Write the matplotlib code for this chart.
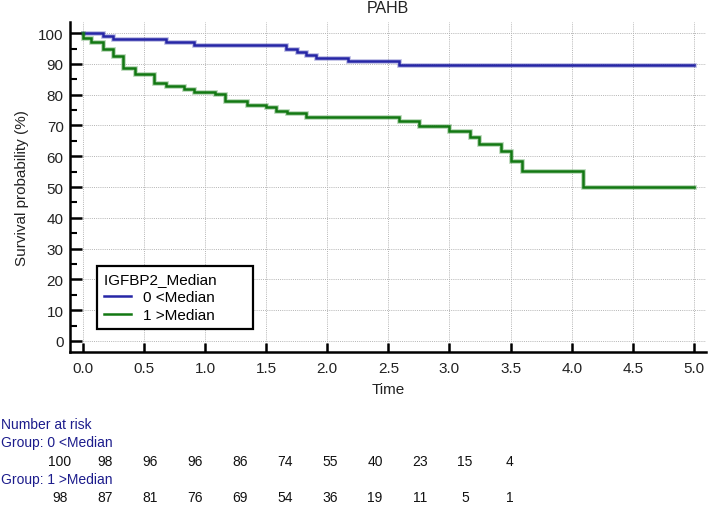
import numpy as np
import matplotlib
matplotlib.use("Agg")
import matplotlib.pyplot as plt
from matplotlib.lines import Line2D

plt.rcParams['font.family'] = ['Liberation Sans', 'DejaVu Sans']

# Kaplan-Meier steps (time, survival %)
t_low = [0.0, 0.17, 0.25, 0.68, 0.91, 1.66, 1.75, 1.83, 1.91, 2.17, 2.59, 5.0]
s_low = [100, 99, 98, 97, 96, 95, 94, 93, 92, 90.8, 89.6, 89.6]

t_high = [0.0, 0.0, 0.07, 0.17, 0.25, 0.33, 0.43, 0.58, 0.68, 0.83, 0.91, 1.08,
          1.16, 1.34, 1.50, 1.58, 1.67, 1.83, 2.59, 2.75, 3.0, 3.17, 3.24,
          3.42, 3.50, 3.59, 4.09, 5.0]
s_high = [100, 98.3, 97.0, 94.8, 92.6, 88.6, 86.7, 83.8, 82.7, 82.0, 80.9, 80.2,
          78.0, 76.6, 75.9, 74.6, 73.9, 72.8, 71.5, 69.9, 68.3, 66.4, 64.0,
          61.6, 58.3, 55.3, 49.9, 49.9]

group_labels = ['0 <Median', '1 >Median']
risk_low = [100, 98, 96, 96, 86, 74, 55, 40, 23, 15, 4]
risk_high = [98, 87, 81, 76, 69, 54, 36, 19, 11, 5, 1]

blue = '#2626a6'
green = '#127812'

fig = plt.figure(figsize=(7.09, 5.06), dpi=100)
ax = fig.add_axes([0.0987, 0.303, 0.8973, 0.652])

for t, s, c in [(t_low, s_low, blue), (t_high, s_high, green)]:
    ax.step(t, s, where='post', color=c, lw=3.4, alpha=0.3, solid_joinstyle='miter')
    ax.step(t, s, where='post', color=c, lw=1.8, solid_joinstyle='miter')

ax.set_xlim(-0.104, 5.10)
ax.set_ylim(-3.5, 103.7)
ax.set_xticks(np.arange(0, 5.01, 0.5))
ax.set_xticklabels(['%.1f' % v for v in np.arange(0, 5.01, 0.5)])
ax.set_yticks(np.arange(0, 101, 10))
ax.set_yticks(np.arange(5, 100, 10), minor=True)

ax.grid(True, which='major', color='#b4b4b4', linestyle=(0, (1, 1.2)), lw=0.7)
ax.set_axisbelow(True)

for side in ['top', 'right']:
    ax.spines[side].set_visible(False)
for side in ['left', 'bottom']:
    ax.spines[side].set_linewidth(1.8)

ax.tick_params(axis='y', which='major', direction='in', length=8.4, width=1.8,
               labelsize=11, pad=4.5, labelcolor='#222222')
ax.tick_params(axis='y', which='minor', direction='in', length=5.2, width=1.5)
ax.tick_params(axis='x', which='major', direction='in', length=6.7, width=1.8,
               labelsize=11, pad=7, labelcolor='#222222')

ax.set_ylabel('Survival probability (%)', fontsize=11, color='#222222', labelpad=7)
ax.set_xlabel('Time', fontsize=11, color='#222222', labelpad=5)
ax.set_title('PAHB', fontsize=11.5, color='#222222', pad=7)

handles = [Line2D([], [], color=blue, lw=1.8), Line2D([], [], color=green, lw=1.8)]
leg = ax.legend(handles, group_labels, title='IGFBP2_Median       ', loc='lower left',
                bbox_to_anchor=(0.042, 0.069), borderaxespad=0, fontsize=11,
                title_fontsize=11, fancybox=False, framealpha=1, edgecolor='black',
                handlelength=1.8, borderpad=0.45, labelspacing=0.25, handletextpad=0.75)
leg.get_frame().set_linewidth(1.6)
leg._legend_box.align = 'left'

# number at risk table below the plot
navy = '#1c1c8c'
narrow = ['Liberation Sans Narrow', 'Liberation Sans']
fig.text(1 / 709, 1 - 425 / 506, 'Number at risk', color=navy, fontsize=10,
         family=narrow, va='center')
fig.text(1 / 709, 1 - 443.3 / 506, 'Group: ' + group_labels[0], color=navy,
         fontsize=10, family=narrow, va='center')
fig.text(1 / 709, 1 - 480 / 506, 'Group: ' + group_labels[1], color=navy,
         fontsize=10, family=narrow, va='center')
for k in range(len(risk_low)):
    x = (60 + 45 * k) / 709
    fig.text(x, 1 - 461.7 / 506, str(risk_low[k]), ha='center', va='center',
             fontsize=10, family=narrow, color='#111111')
    fig.text(x, 1 - 498.3 / 506, str(risk_high[k]), ha='center', va='center',
             fontsize=10, family=narrow, color='#111111')

fig.savefig('out.png', dpi=100)
